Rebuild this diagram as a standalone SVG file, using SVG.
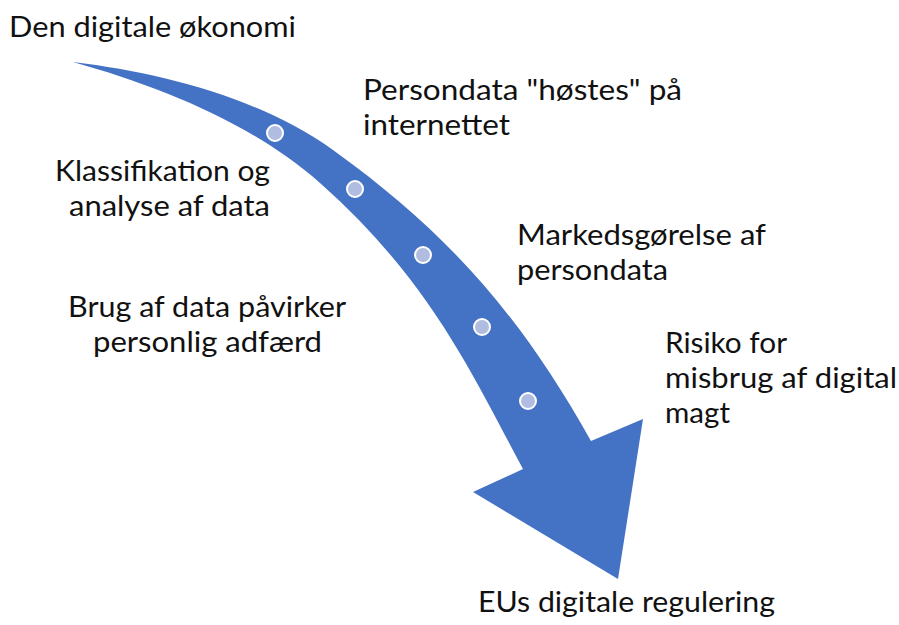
<svg xmlns="http://www.w3.org/2000/svg" width="899" height="625" viewBox="0 0 899 625">
  <style>
    .lbl { font-family: Lato, "Open Sans", "Liberation Sans", sans-serif; font-size: 29px; fill: #111111; }
    .arrow { fill: #4472C4; }
    .dot { fill: #B0BCE0; stroke: #FFFFFF; stroke-width: 2; }
  </style>
  <rect width="899" height="625" fill="#FFFFFF"/>

  <!-- Swoosh arrow: tapered tail at top left, curving down to the head -->
  <g id="connectors">
    <path id="swoosh" class="arrow" d="M73,62
      C163,73 260,98 333,150
      C450,234 522,318 591,441
      L643,419 L618,579 L473,492 L523,469
      C475.5,381 432,282 320,183
      C252.5,123.6 162,87 73,62 Z"/>
  </g>

  <!-- Step markers along the arrow -->
  <g id="markers">
    <circle class="dot" cx="275" cy="133" r="8"/>
    <circle class="dot" cx="355" cy="189" r="8"/>
    <circle class="dot" cx="423" cy="255" r="8"/>
    <circle class="dot" cx="482" cy="327" r="8"/>
    <circle class="dot" cx="528" cy="401" r="8"/>
  </g>

  <g id="node-start">
    <text class="lbl" x="9" y="37" textLength="287" lengthAdjust="spacingAndGlyphs">Den digitale økonomi</text>
  </g>
  <g id="node-harvest">
    <text class="lbl" x="363" y="100" textLength="319" lengthAdjust="spacingAndGlyphs">Persondata "høstes" på</text>
    <text class="lbl" x="363" y="135" textLength="147" lengthAdjust="spacingAndGlyphs">internettet</text>
  </g>
  <g id="node-classify">
    <text class="lbl" x="55" y="181" textLength="215" lengthAdjust="spacingAndGlyphs">Klassifikation og</text>
    <text class="lbl" x="69" y="216" textLength="201" lengthAdjust="spacingAndGlyphs">analyse af data</text>
  </g>
  <g id="node-market">
    <text class="lbl" x="517" y="245" textLength="249" lengthAdjust="spacingAndGlyphs">Markedsgørelse af</text>
    <text class="lbl" x="517" y="280" textLength="151" lengthAdjust="spacingAndGlyphs">persondata</text>
  </g>
  <g id="node-behaviour">
    <text class="lbl" x="68" y="317" textLength="278" lengthAdjust="spacingAndGlyphs">Brug af data påvirker</text>
    <text class="lbl" x="93" y="352" textLength="229" lengthAdjust="spacingAndGlyphs">personlig adfærd</text>
  </g>
  <g id="node-risk">
    <text class="lbl" x="665" y="353" textLength="122" lengthAdjust="spacingAndGlyphs">Risiko for</text>
    <text class="lbl" x="665" y="388" textLength="232" lengthAdjust="spacingAndGlyphs">misbrug af digital</text>
    <text class="lbl" x="665" y="423" textLength="65" lengthAdjust="spacingAndGlyphs">magt</text>
  </g>
  <g id="node-end">
    <text class="lbl" x="478" y="612" textLength="297" lengthAdjust="spacingAndGlyphs">EUs digitale regulering</text>
  </g>
</svg>
